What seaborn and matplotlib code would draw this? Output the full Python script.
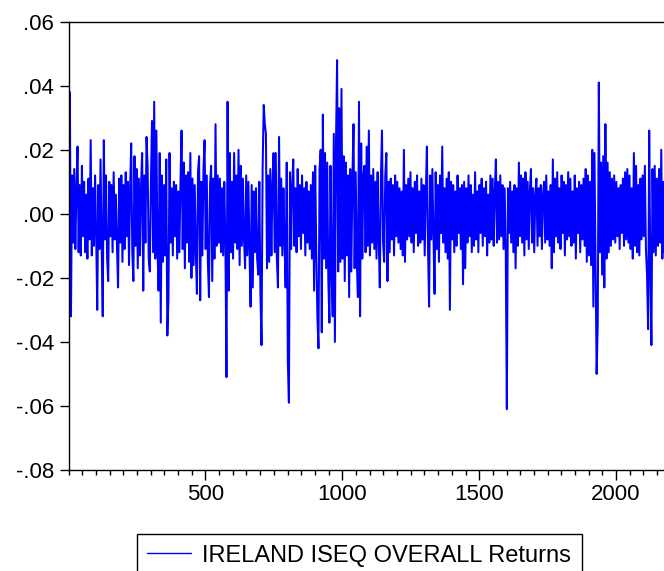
import numpy as np
import pandas as pd
import matplotlib
matplotlib.use("Agg")
import matplotlib.pyplot as plt
import seaborn as sns
from matplotlib.ticker import FixedLocator, MultipleLocator, FuncFormatter

series_name = "IRELAND ISEQ OVERALL Returns"
returns_permille = [
    5, 38, -32, 12, -9, 14, -11, 8, 21, -12,
    9, -13, 15, -7, 10, -12, 6, -14, 11, -8,
    23, -13, 8, -10, 12, -6, -30, 9, -11, 17,
    -9, -32, 23, -8, 12, -14, -21, 10, -7, 9,
    -12, 13, -8, 6, -10, -23, 11, -9, 12, -15,
    9, -11, 13, -7, 10, -16, 8, 22, -12, -21,
    18, -10, 14, -17, 11, -13, 9, 19, -24, 12,
    -9, 24, 15, -14, -18, 10, 29, -12, 35, -14,
    26, -11, -24, 19, -34, 12, -15, 9, -13, 17,
    -38, -27, 19, -9, 8, -13, 10, -7, 9, -14,
    7, -12, 10, 26, -11, 16, -17, 12, -9, 13,
    -15, 19, -20, 11, -16, 9, -12, -25, 13, 18,
    -27, 10, -13, 14, 23, -11, 12, -15, -26, 9,
    15, -21, 11, -14, 28, -10, 12, -9, 11, -12,
    8, -13, 10, -9, -51, 35, -24, 19, -12, 10,
    -14, 19, -9, 12, -11, 20, -16, 15, -10, 11,
    -8, -17, 12, -13, 10, -11, -29, 9, -23, 7,
    -12, 8, -14, -19, 10, -25, -41, 14, 34, 28,
    25, -17, 12, -15, 14, -13, 9, 19, -12, 19,
    -14, -23, 24, -10, 11, -13, 8, -9, -23, 16,
    -46, -59, 13, -11, 9, 17, -10, 8, -12, 14,
    -7, 9, -11, 12, -6, 8, -13, 10, -9, 7,
    -11, 9, -14, 13, -24, 15, -12, -32, -42, 14,
    20, -37, 31, -14, 19, -17, 16, -21, -34, 15,
    -19, -32, 25, -40, 22, 48, -18, 33, -15, 39,
    -14, 18, -21, 16, -13, 12, -26, 14, -18, 11,
    28, -17, 13, -15, -26, 35, -32, 22, -14, 12,
    15, -12, 21, -10, 26, -13, 12, -9, 14, -11,
    10, -14, 13, -8, -23, 11, 26, -9, -15, 12,
    19, -21, 10, -12, 11, -8, 9, -13, 12, -7,
    10, -9, 8, -11, 7, -13, 20, -15, 9, -8,
    11, -7, 13, -9, 8, -12, 10, -6, 12, -10,
    7, -9, 11, -8, 9, -13, 6, 21, -10, -29,
    12, -8, 14, -7, -25, 13, -11, 9, -15, 12,
    -6, 21, -9, 8, -12, 11, -14, 13, -30, 10,
    -8, 9, -12, 7, -10, 12, -6, 8, -11, 9,
    -22, 10, -17, 8, -9, 12, -7, 9, -12, 6,
    -10, 13, -8, 7, -12, 9, -6, 11, -10, 8,
    -7, 10, -13, 6, -9, 12, -8, 11, -10, 7,
    17, -9, 10, -8, 12, -7, 9, -11, 8, -12,
    -61, 8, -6, 10, -9, 7, -12, 9, -17, 8,
    -10, 16, -7, 12, -9, 11, -13, 13, -8, 10,
    -11, 7, 14, -9, 8, -12, 6, 11, -10, 8,
    -7, 9, -11, 6, 10, -9, 12, -8, 7, -10,
    9, -17, 17, -12, 11, -7, 13, -9, 8, -11,
    12, -6, 10, -13, 9, -8, 13, -7, 11, -10,
    7, -9, 12, -14, 8, -6, 10, -12, 9, -8,
    11, -10, 14, -15, 12, -13, 10, -16, 20, -29,
    19, -17, -50, -34, 41, -12, 16, -19, 18, -23,
    28, -14, 16, -12, 13, -10, 11, -8, 12, -9,
    10, -7, 8, -11, 9, -6, 11, -10, 13, -8,
    14, -9, 12, -11, 8, -14, 19, -10, 15, -12,
    9, -13, 11, -8, 12, -7, 15, -11, -19, -36,
    26, -18, -41, 14, -12, 15, -13, 11, -10, 14,
    -9, 20, -14, 10, -12,
]
obs_step = 4
y_ticks = [-0.08, -0.06, -0.04, -0.02, 0.00, 0.02, 0.04, 0.06]
x_major_ticks = [500, 1000, 1500, 2000]

returns = np.array(returns_permille) / 1000.0
obs = 1 + obs_step * np.arange(len(returns))
df = pd.DataFrame({"obs": obs, "ret": returns})

sns.set_style("white")
plt.rcParams["font.family"] = ["Liberation Sans", "DejaVu Sans"]
plt.rcParams["text.color"] = "black"
plt.rcParams["xtick.color"] = "black"
plt.rcParams["ytick.color"] = "black"
plt.rcParams["axes.labelcolor"] = "black"

W, H = 664, 571
fig = plt.figure(figsize=(W / 100, H / 100), dpi=100)
ax_left, ax_top, ax_bottom = 68.5, 21.7, 470.0
ax = fig.add_axes([ax_left / W, (H - ax_bottom) / H, (W - ax_left) / W, (ax_bottom - ax_top) / H])

sns.lineplot(data=df, x="obs", y="ret", ax=ax, color="#0000ff", linewidth=1.45,
             label=series_name, estimator=None)

ax.set_xlim(0, 2175)
ax.set_ylim(-0.08, 0.06)
ax.set_xlabel("")
ax.set_ylabel("")

ax.yaxis.set_major_locator(FixedLocator(y_ticks))
ax.yaxis.set_major_formatter(FuncFormatter(lambda v, p: f"{v:.2f}".replace("0.", ".")))
ax.xaxis.set_major_locator(FixedLocator(x_major_ticks))
ax.xaxis.set_minor_locator(MultipleLocator(50))

ax.tick_params(axis="y", which="major", direction="out", length=6.5, width=1.0,
               color="black", labelcolor="black", labelsize=16, pad=4, left=True)
ax.tick_params(axis="x", which="major", direction="out", length=7.2, width=1.0,
               color="black", labelcolor="black", labelsize=16, pad=3, bottom=True)
ax.tick_params(axis="x", which="minor", direction="out", length=3.6, width=1.0,
               color="black", bottom=True)

for side in ["left", "top", "bottom"]:
    ax.spines[side].set_visible(True)
    ax.spines[side].set_color("black")
    ax.spines[side].set_linewidth(1.0)
ax.spines["right"].set_visible(False)

handles, labels = ax.get_legend_handles_labels()
if ax.get_legend() is not None:
    ax.get_legend().remove()
leg = fig.legend(handles, labels, loc="upper left",
                 bbox_to_anchor=(136.7 / W, (H - 534) / H),
                 bbox_transform=fig.transFigure,
                 fontsize=17, frameon=True, fancybox=False, shadow=False,
                 borderpad=0.45, handlelength=1.87, handletextpad=0.45,
                 borderaxespad=0)
leg.get_frame().set_edgecolor("black")
leg.get_frame().set_linewidth(1.0)
leg.get_frame().set_facecolor("white")
leg.get_frame().set_alpha(1.0)
for t in leg.get_texts():
    t.set_color("black")
for h in leg.get_lines():
    h.set_linewidth(1.0)

fig.savefig("out.png", dpi=100)
